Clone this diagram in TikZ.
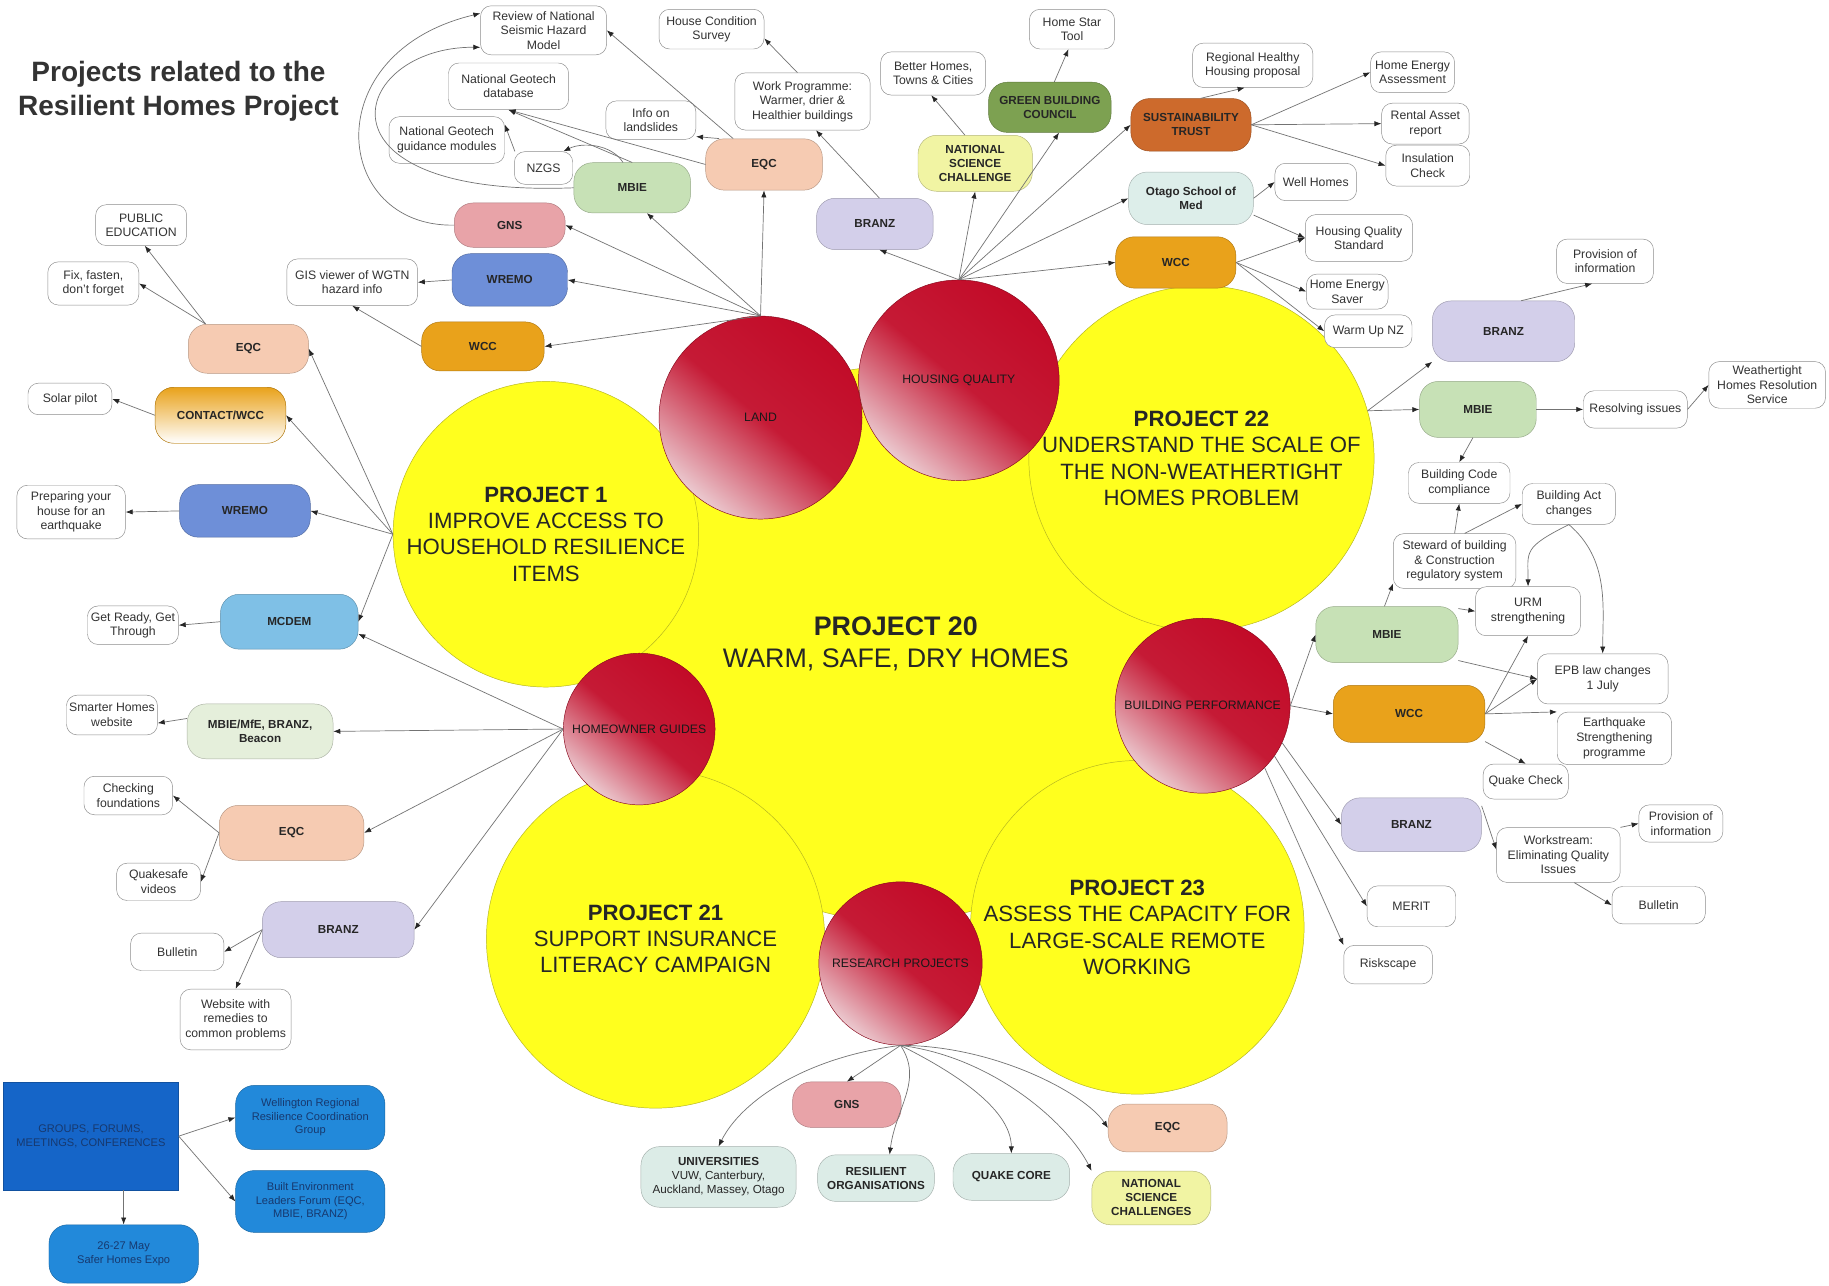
\documentclass[tikz,border=0pt]{standalone}
\usepackage{fontspec}
\setmainfont{Liberation Sans}
\usetikzlibrary{arrows.meta}

\definecolor{pyellow}{HTML}{FFFF1E}
\definecolor{pyedge}{HTML}{B5B520}
\definecolor{ballred}{HTML}{C20B28}
\definecolor{ballpink}{HTML}{EBC9CF}
\definecolor{gnscol}{HTML}{E8A3A8}
\definecolor{wremocol}{HTML}{6E8FD8}
\definecolor{wcccol}{HTML}{E9A21B}
\definecolor{mbiecol}{HTML}{C7E1B6}
\definecolor{eqccol}{HTML}{F6CBB2}
\definecolor{branzcol}{HTML}{D3CFEA}
\definecolor{nsccol}{HTML}{F1F4A3}
\definecolor{gbccol}{HTML}{7DA151}
\definecolor{sustcol}{HTML}{CD6A2C}
\definecolor{otagocol}{HTML}{DDEEEA}
\definecolor{mcdemcol}{HTML}{7FC0E6}
\definecolor{mfecol}{HTML}{E5EFDB}
\definecolor{unicol}{HTML}{DCECE7}
\definecolor{grpcol}{HTML}{1565C8}
\definecolor{bluecol}{HTML}{2289DA}
\definecolor{navytext}{HTML}{17396F}

\begin{document}
\begin{tikzpicture}[x=1pt,y=-1pt,
  yball/.style={circle,draw=pyedge,fill=pyellow,align=center,text=black!85,
    font=\fontsize{19}{22.5}\selectfont,inner sep=0pt},
  rball/.style={circle,draw=ballred!70!black,top color=ballred,bottom color=ballpink,
    middle color=ballred!92!ballpink,shading angle=-40,text=black!90,
    font=\fontsize{10.5}{12}\selectfont,inner sep=0pt},
  pill/.style={draw=#1!75!black,fill=#1,rounded corners=16pt,minimum width=100pt,
    minimum height=42pt,align=center,text=black!85,
    font=\bfseries\fontsize{10}{12}\selectfont,inner sep=2pt},
  bluepill/.style={pill=bluecol,font=\fontsize{9.5}{11.5}\selectfont,text=navytext},
  wbox/.style={draw=black!45,fill=white,rounded corners=9pt,align=center,text=black!80,
    font=\fontsize{10.5}{12.5}\selectfont,inner sep=2pt},
  conn/.style={draw=black!55,line width=0.6pt,-{Latex[length=6pt,width=4.5pt,color=black!85]}}]

  \useasboundingbox (0,0) rectangle (1568,1102);
  \fill[white] (0,0) rectangle (1568,1102);

  \draw (153,78) node[font=\bfseries\fontsize{24}{29}\selectfont,text=black!80,align=center] (title) {Projects related to the\\Resilient Homes Project};

  \draw (768,552) node[yball,minimum size=476pt,font=\fontsize{23}{28}\selectfont] (p20) {\textbf{PROJECT 20}\\WARM, SAFE, DRY HOMES};
  \draw (468,458) node[yball,minimum size=262pt] (p1) {\textbf{PROJECT 1}\\IMPROVE ACCESS TO\\HOUSEHOLD RESILIENCE\\ITEMS};
  \draw (1030,393) node[yball,minimum size=296pt] (p22) {\textbf{PROJECT 22}\\UNDERSTAND THE SCALE OF\\THE NON-WEATHERTIGHT\\HOMES PROBLEM};
  \draw (562,805) node[yball,minimum size=290pt] (p21) {\textbf{PROJECT 21}\\SUPPORT INSURANCE\\LITERACY CAMPAIGN};
  \draw (975,795) node[yball,minimum size=286pt] (p23) {\textbf{PROJECT 23}\\ASSESS THE CAPACITY FOR\\LARGE-SCALE REMOTE\\WORKING};

  \draw (652,358) node[rball,minimum size=174pt] (land) {LAND};
  \draw (822,326) node[rball,minimum size=172pt] (hq) {HOUSING QUALITY};
  \draw (548,625) node[rball,minimum size=130pt] (hog) {HOMEOWNER GUIDES};
  \draw (1031,605) node[rball,minimum size=150pt] (bp) {BUILDING PERFORMANCE};
  \draw (772,826) node[rball,minimum size=140pt] (rp) {RESEARCH PROJECTS};

  \draw (466,26) node[wbox,minimum width=108pt,minimum height=42pt] (review) {Review of National\\Seismic Hazard\\Model};
  \draw (610,25) node[wbox,minimum width=90pt,minimum height=34pt] (house) {House Condition\\Survey};
  \draw (919,25) node[wbox,minimum width=73pt,minimum height=34pt] (homestar) {Home Star\\Tool};
  \draw (436,74) node[wbox,minimum width=103pt,minimum height=40pt] (geodb) {National Geotech\\database};
  \draw (800,63) node[wbox,minimum width=90pt,minimum height=37pt] (better) {Better Homes,\\Towns \& Cities};
  \draw (688,87) node[wbox,minimum width=116pt,minimum height=49pt] (workprog) {Work Programme:\\Warmer, drier \&\\Healthier buildings};
  \draw (1074,56) node[wbox,minimum width=103pt,minimum height=38pt] (regional) {Regional Healthy\\Housing proposal};
  \draw (1211,62) node[wbox,minimum width=72pt,minimum height=35pt] (hea) {Home Energy\\Assessment};
  \draw (558,103) node[wbox,minimum width=77pt,minimum height=33pt] (landslides) {Info on\\landslides};
  \draw (383,120) node[wbox,minimum width=99pt,minimum height=40pt] (geoguide) {National Geotech\\guidance modules};
  \draw (1222,106) node[wbox,minimum width=75pt,minimum height=35pt] (rental) {Rental Asset\\report};
  \draw (1224,142) node[wbox,minimum width=72pt,minimum height=35pt] (insul) {Insulation\\Check};
  \draw (466,144) node[wbox,minimum width=50pt,minimum height=28pt] (nzgs) {NZGS};
  \draw (1128,156) node[wbox,minimum width=70pt,minimum height=32pt] (wellhomes) {Well Homes};
  \draw (1165,204) node[wbox,minimum width=92pt,minimum height=40pt] (hqs) {Housing Quality\\Standard};
  \draw (302,242) node[wbox,minimum width=112pt,minimum height=40pt] (gis) {GIS viewer of WGTN\\hazard info};
  \draw (1155,250) node[wbox,minimum width=70pt,minimum height=30pt] (hes) {Home Energy\\Saver};
  \draw (1376,224) node[wbox,minimum width=83pt,minimum height=38pt] (prov1) {Provision of\\information};
  \draw (1173,284) node[wbox,minimum width=75pt,minimum height=28pt] (warmup) {Warm Up NZ};
  \draw (121,193) node[wbox,minimum width=78pt,minimum height=35pt] (pubedu) {PUBLIC\\EDUCATION};
  \draw (80,243) node[wbox,minimum width=78pt,minimum height=37pt] (fix) {Fix, fasten,\\don't forget};
  \draw (60,342) node[wbox,minimum width=72pt,minimum height=27pt] (solar) {Solar pilot};
  \draw (1515,330) node[wbox,minimum width=100pt,minimum height=40pt] (whrs) {Weathertight\\Homes Resolution\\Service};
  \draw (1402,351) node[wbox,minimum width=89pt,minimum height=32pt] (resolving) {Resolving issues};
  \draw (61,439) node[wbox,minimum width=93pt,minimum height=46pt] (prepare) {Preparing your\\house for an\\earthquake};
  \draw (1251,414) node[wbox,minimum width=87pt,minimum height=35pt] (bcc) {Building Code\\compliance};
  \draw (1345,432) node[wbox,minimum width=80pt,minimum height=35pt] (bact) {Building Act\\changes};
  \draw (1247,481) node[wbox,minimum width=105pt,minimum height=47pt] (steward) {Steward of building\\\& Construction\\regulatory system};
  \draw (114,536) node[wbox,minimum width=78pt,minimum height=33pt] (getready) {Get Ready, Get\\Through};
  \draw (1310,524) node[wbox,minimum width=90pt,minimum height=42pt] (urm) {URM\\strengthening};
  \draw (1374,582) node[wbox,minimum width=112pt,minimum height=43pt] (epb) {EPB law changes\\1 July};
  \draw (96,613) node[wbox,minimum width=78pt,minimum height=34pt] (smarter) {Smarter Homes\\website};
  \draw (1384,633) node[wbox,minimum width=98pt,minimum height=45pt] (eqsp) {Earthquake\\Strengthening\\programme};
  \draw (1308,670) node[wbox,minimum width=73pt,minimum height=30pt] (quake) {Quake Check};
  \draw (110,682) node[wbox,minimum width=76pt,minimum height=33pt] (checking) {Checking\\foundations};
  \draw (1441,706) node[wbox,minimum width=72pt,minimum height=32pt] (prov2) {Provision of\\information};
  \draw (1336,733) node[wbox,minimum width=106pt,minimum height=47pt] (workstream) {Workstream:\\Eliminating Quality\\Issues};
  \draw (136,756) node[wbox,minimum width=72pt,minimum height=32pt] (quakesafe) {Quakesafe\\videos};
  \draw (1210,777) node[wbox,minimum width=76pt,minimum height=35pt] (merit) {MERIT};
  \draw (1422,776) node[wbox,minimum width=80pt,minimum height=32pt] (bulletr) {Bulletin};
  \draw (152,816) node[wbox,minimum width=80pt,minimum height=32pt] (bulletl) {Bulletin};
  \draw (1190,827) node[wbox,minimum width=76pt,minimum height=33pt] (riskscape) {Riskscape};
  \draw (202,874) node[wbox,minimum width=95pt,minimum height=52pt] (website) {Website with\\remedies to\\common problems};

  \draw (900,92) node[pill=gbccol,minimum width=105pt,minimum height=43pt] (gbc) {GREEN BUILDING\\COUNCIL};
  \draw (1021,107) node[pill=sustcol,minimum width=103pt,minimum height=45pt] (sust) {SUSTAINABILITY\\TRUST};
  \draw (836,140) node[pill=nsccol,minimum width=98pt,minimum height=48pt] (nsc) {NATIONAL\\SCIENCE\\CHALLENGE};
  \draw (542,161) node[pill=mbiecol,minimum height=43pt] (mbiel) {MBIE};
  \draw (655,141) node[pill=eqccol,minimum height=44pt] (eqcl) {EQC};
  \draw (1021,170) node[pill=otagocol,minimum width=107pt,minimum height=45pt] (otago) {Otago School of\\Med};
  \draw (437,193) node[pill=gnscol,minimum width=95pt,minimum height=38pt] (gnsl) {GNS};
  \draw (750,192) node[pill=branzcol,minimum height=44pt] (branzh) {BRANZ};
  \draw (437,240) node[pill=wremocol,minimum width=99pt,minimum height=45pt] (wremol) {WREMO};
  \draw (1008,225) node[pill=wcccol,minimum width=103pt,minimum height=44pt] (wcch) {WCC};
  \draw (1289,284) node[pill=branzcol,minimum width=122pt,minimum height=52pt] (branzr) {BRANZ};
  \draw (414,297) node[pill=wcccol,minimum width=105pt,minimum height=42pt] (wccl) {WCC};
  \draw (213,299) node[pill=eqccol,minimum width=103pt,minimum height=42pt] (eqcp) {EQC};
  \draw (189,356) node[pill=wcccol,top color=wcccol,bottom color=white,minimum width=112pt,minimum height=48pt] (contact) {CONTACT/WCC};
  \draw (1267,351) node[pill=mbiecol,minimum height=48pt] (mbier) {MBIE};
  \draw (210,438) node[pill=wremocol,minimum width=112pt,minimum height=45pt] (wremop) {WREMO};
  \draw (248,533) node[pill=mcdemcol,minimum width=118pt,minimum height=47pt] (mcdem) {MCDEM};
  \draw (1189,544) node[pill=mbiecol,minimum width=122pt,minimum height=48pt] (mbieb) {MBIE};
  \draw (223,627) node[pill=mfecol,minimum width=125pt,minimum height=47pt] (mfe) {MBIE/MfE, BRANZ,\\Beacon};
  \draw (1208,612) node[pill=wcccol,minimum width=130pt,minimum height=49pt] (wccb) {WCC};
  \draw (250,714) node[pill=eqccol,minimum width=124pt,minimum height=47pt] (eqch) {EQC};
  \draw (1210,707) node[pill=branzcol,minimum width=120pt,minimum height=46pt] (branzb) {BRANZ};
  \draw (290,797) node[pill=branzcol,minimum width=130pt,minimum height=48pt] (branzg) {BRANZ};
  \draw (726,947) node[pill=gnscol,minimum width=93pt,minimum height=39pt] (gnsr) {GNS};
  \draw (1001,967) node[pill=eqccol,minimum width=102pt,minimum height=41pt] (eqcr) {EQC};
  \draw (616,1009) node[pill=unicol,minimum width=133pt,minimum height=52pt] (univ) {UNIVERSITIES\\{\mdseries VUW, Canterbury,}\\{\mdseries Auckland, Massey, Otago}};
  \draw (751,1010) node[pill=unicol,minimum height=40pt] (resorg) {RESILIENT\\ORGANISATIONS};
  \draw (867,1009) node[pill=unicol,minimum height=40pt] (quakecore) {QUAKE CORE};
  \draw (987,1027) node[pill=nsccol,minimum width=102pt,minimum height=46pt] (nscs) {NATIONAL\\SCIENCE\\CHALLENGES};

  \draw (78,974) node[draw=grpcol!80!black,fill=grpcol,minimum width=150pt,minimum height=92pt,align=center,text=navytext,font=\fontsize{9.5}{11.5}\selectfont] (groups) {GROUPS, FORUMS,\\MEETINGS, CONFERENCES};
  \draw (266,958) node[bluepill,minimum width=128pt,minimum height=55pt] (wrrcg) {Wellington Regional\\Resilience Coordination\\Group};
  \draw (266,1030) node[bluepill,minimum width=128pt,minimum height=53pt] (belf) {Built Environment\\Leaders Forum (EQC,\\MBIE, BRANZ)};
  \draw (106,1075) node[bluepill,minimum width=128pt,minimum height=50pt] (expo) {26-27 May\\Safer Homes Expo};

  \draw[conn] (land.north) -- (gnsl.east);
  \draw[conn] (land.north) -- (wremol.east);
  \draw[conn] (land.north) -- (wccl.east);
  \draw[conn] (land.north) -- (mbiel.-60);
  \draw[conn] (land.north) -- (eqcl.south);
  \draw[conn] (wremol.west) -- (gis.east);
  \draw[conn] (wccl.west) -- (gis.south);
  \draw[conn] (mbiel.110) .. controls +(-10,-16) and +(16,-8) .. (nzgs.40);
  \draw[conn] (nzgs.150) -- (geoguide.15);
  \draw[conn] (mbiel.north) -- (geodb.south);
  \draw[conn] (eqcl.west) -- (geodb.south);
  \draw[conn] (eqcl.150) -- (landslides.-20);
  \draw[conn] (eqcl.140) -- (review.east);
  \draw[conn] (gnsl.west) .. controls (285,195) and (270,45) .. (review.165);
  \draw[conn] (mbiel.west) .. controls (260,170) and (300,40) .. (review.195);

  \draw[conn] (hq.north) -- (branzh.-80);
  \draw[conn] (hq.north) -- (nsc.south);
  \draw[conn] (hq.north) -- (gbc.-70);
  \draw[conn] (hq.north) -- (sust.west);
  \draw[conn] (hq.north) -- (otago.west);
  \draw[conn] (hq.north) -- (wcch.west);
  \draw[conn] (gbc.80) -- (homestar.-100);
  \draw[conn] (nsc.110) -- (better.-95);
  \draw[conn] (branzh.80) -- (workprog.-65);
  \draw[conn] (workprog.100) -- (house.-10);
  \draw[conn] (sust.70) -- (regional.-110);
  \draw[conn] (sust.east) -- (hea.west);
  \draw[conn] (sust.east) -- (rental.west);
  \draw[conn] (sust.east) -- (insul.west);
  \draw[conn] (otago.east) -- (wellhomes.west);
  \draw[conn] (otago.-15) -- (hqs.west);
  \draw[conn] (wcch.east) -- (hqs.west);
  \draw[conn] (wcch.east) -- (hes.west);
  \draw[conn] (wcch.east) -- (warmup.west);

  \draw[conn] (p22.16) -- (branzr.south west);
  \draw[conn] (p22.16) -- (mbier.west);
  \draw[conn] (branzr.60) -- (prov1.-120);
  \draw[conn] (mbier.east) -- (resolving.west);
  \draw[conn] (resolving.east) -- (whrs.west);
  \draw[conn] (mbier.-100) -- (bcc.north);
  \draw[conn] (steward.north) -- (bcc.south);
  \draw[conn] (steward.70) -- (bact.west);
  \draw[conn] (mbieb.95) -- (steward.200);
  \draw[conn] (bact.south) .. controls +(-40,20) and +(0,-30) .. (urm.north);
  \draw[conn] (bact.south) .. controls +(35,30) and +(0,-40) .. (epb.north);
  \draw[conn] (mbieb.20) -- (urm.west);
  \draw[conn] (mbieb.-20) -- (epb.west);
  \draw[conn] (wccb.east) -- (urm.south);
  \draw[conn] (wccb.east) -- (epb.west);
  \draw[conn] (wccb.east) -- (eqsp.north west);
  \draw[conn] (wccb.-20) -- (quake.north);

  \draw[conn] (bp.east) -- (mbieb.west);
  \draw[conn] (bp.east) -- (wccb.west);
  \draw[conn] (bp.-25) -- (branzb.west);
  \draw[conn] (bp.-35) -- (merit.west);
  \draw[conn] (bp.-45) -- (riskscape.north west);
  \draw[conn] (branzb.15) -- (workstream.175);
  \draw[conn] (workstream.north east) -- (prov2.west);
  \draw[conn] (workstream.-60) -- (bulletr.west);

  \draw[conn] (p1.west) -- (eqcp.east);
  \draw[conn] (p1.west) -- (contact.east);
  \draw[conn] (p1.west) -- (wremop.east);
  \draw[conn] (p1.west) -- (mcdem.east);
  \draw[conn] (eqcp.150) -- (pubedu.-80);
  \draw[conn] (eqcp.150) -- (fix.east);
  \draw[conn] (contact.west) -- (solar.east);
  \draw[conn] (wremop.west) -- (prepare.east);
  \draw[conn] (mcdem.west) -- (getready.east);

  \draw[conn] (hog.west) -- (mcdem.-10);
  \draw[conn] (hog.west) -- (mfe.east);
  \draw[conn] (hog.west) -- (eqch.east);
  \draw[conn] (hog.west) -- (branzg.east);
  \draw[conn] (mfe.170) -- (smarter.-10);
  \draw[conn] (eqch.west) -- (checking.east);
  \draw[conn] (eqch.west) -- (quakesafe.east);
  \draw[conn] (branzg.west) -- (bulletl.east);
  \draw[conn] (branzg.west) -- (website.north);

  \draw[conn] (rp.south) -- (gnsr.north);
  \draw[conn] (rp.south) .. controls +(-80,10) and +(20,-40) .. (univ.north);
  \draw[conn] (rp.south) .. controls +(20,30) and +(5,-40) .. (resorg.60);
  \draw[conn] (rp.south) .. controls +(40,20) and +(0,-40) .. (quakecore.north);
  \draw[conn] (rp.south) .. controls +(80,0) and +(-20,-30) .. (eqcr.west);
  \draw[conn] (rp.south) .. controls +(80,10) and +(-20,-40) .. (nscs.north west);

  \draw[conn] (groups.east) -- (wrrcg.west);
  \draw[conn] (groups.east) -- (belf.west);
  \draw[conn] (expo.north |- groups.south) -- (expo.north);

\end{tikzpicture}
\end{document}
